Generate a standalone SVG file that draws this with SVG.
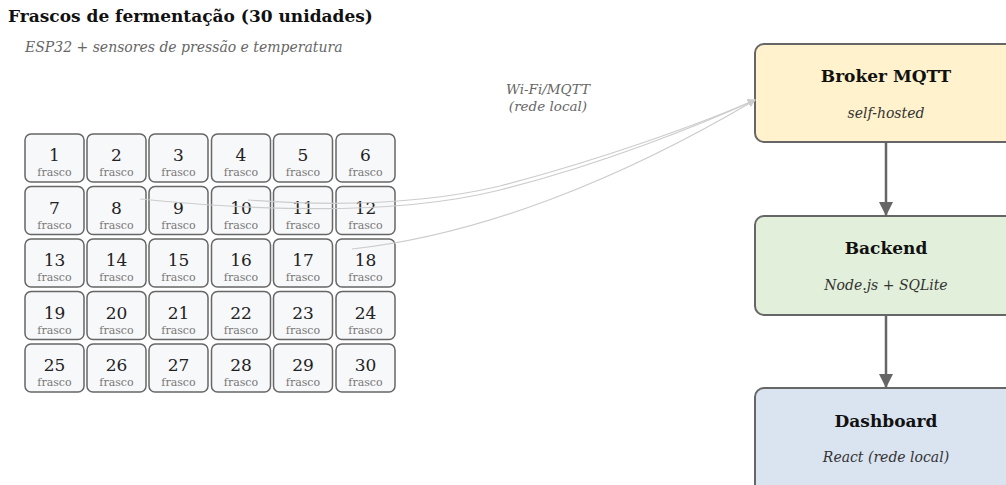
<svg xmlns="http://www.w3.org/2000/svg" width="1006" height="485" viewBox="0 0 1006 485">
<defs>
<style>
text{font-family:"DejaVu Serif","Liberation Serif",serif}
.title{font-size:17px;font-weight:bold;fill:#111}
.sub{font-size:14px;font-style:italic;fill:#666}
.wl{font-size:13.5px;font-style:italic;fill:#666;text-anchor:middle}
.f rect{fill:#f7f8fa;stroke:#666;stroke-width:1.5}
.num{font-size:17px;fill:#222;text-anchor:middle}
.lbl{font-size:11px;fill:#777;text-anchor:middle}
.big rect{stroke:#666;stroke-width:2}
.bt{font-size:17px;font-weight:bold;fill:#111;text-anchor:middle}
.bs{font-size:14px;font-style:italic;fill:#333;text-anchor:middle}
.wire{fill:none;stroke:#ccc;stroke-width:1.2}
.flow{fill:none;stroke:#666;stroke-width:2.5}
</style>
<marker id="ag" viewBox="0 0 10 10" refX="9" refY="5" markerWidth="8" markerHeight="8" markerUnits="userSpaceOnUse" orient="auto"><path d="M0,0 L10,5 L0,10 z" fill="#ccc"/></marker>
<marker id="ad" viewBox="0 0 10 10" refX="10" refY="5" markerWidth="14" markerHeight="14" markerUnits="userSpaceOnUse" orient="auto"><path d="M0,0 L10,5 L0,10 z" fill="#666"/></marker>
</defs>
<rect width="1006" height="485" fill="#fff"/>
<text class="title" x="8" y="22">Frascos de fermentação (30 unidades)</text>
<text class="sub" x="25" y="52">ESP32 + sensores de pressão e temperatura</text>

<g id="frascos">
<g id="f1" class="f"><rect x="25" y="134" width="59" height="48" rx="6"/><text class="num" x="54.5" y="161">1</text><text class="lbl" x="54.5" y="176">frasco</text></g>
<g id="f2" class="f"><rect x="87" y="134" width="59" height="48" rx="6"/><text class="num" x="116.5" y="161">2</text><text class="lbl" x="116.5" y="176">frasco</text></g>
<g id="f3" class="f"><rect x="149" y="134" width="59" height="48" rx="6"/><text class="num" x="178.5" y="161">3</text><text class="lbl" x="178.5" y="176">frasco</text></g>
<g id="f4" class="f"><rect x="211.5" y="134" width="59" height="48" rx="6"/><text class="num" x="241" y="161">4</text><text class="lbl" x="241" y="176">frasco</text></g>
<g id="f5" class="f"><rect x="273.5" y="134" width="59" height="48" rx="6"/><text class="num" x="303" y="161">5</text><text class="lbl" x="303" y="176">frasco</text></g>
<g id="f6" class="f"><rect x="336" y="134" width="59" height="48" rx="6"/><text class="num" x="365.5" y="161">6</text><text class="lbl" x="365.5" y="176">frasco</text></g>

<g id="f7" class="f"><rect x="25" y="186.5" width="59" height="48" rx="6"/><text class="num" x="54.5" y="213.5">7</text><text class="lbl" x="54.5" y="228.5">frasco</text></g>
<g id="f8" class="f"><rect x="87" y="186.5" width="59" height="48" rx="6"/><text class="num" x="116.5" y="213.5">8</text><text class="lbl" x="116.5" y="228.5">frasco</text></g>
<g id="f9" class="f"><rect x="149" y="186.5" width="59" height="48" rx="6"/><text class="num" x="178.5" y="213.5">9</text><text class="lbl" x="178.5" y="228.5">frasco</text></g>
<g id="f10" class="f"><rect x="211.5" y="186.5" width="59" height="48" rx="6"/><text class="num" x="241" y="213.5">10</text><text class="lbl" x="241" y="228.5">frasco</text></g>
<g id="f11" class="f"><rect x="273.5" y="186.5" width="59" height="48" rx="6"/><text class="num" x="303" y="213.5">11</text><text class="lbl" x="303" y="228.5">frasco</text></g>
<g id="f12" class="f"><rect x="336" y="186.5" width="59" height="48" rx="6"/><text class="num" x="365.5" y="213.5">12</text><text class="lbl" x="365.5" y="228.5">frasco</text></g>

<g id="f13" class="f"><rect x="25" y="239" width="59" height="48" rx="6"/><text class="num" x="54.5" y="266">13</text><text class="lbl" x="54.5" y="281">frasco</text></g>
<g id="f14" class="f"><rect x="87" y="239" width="59" height="48" rx="6"/><text class="num" x="116.5" y="266">14</text><text class="lbl" x="116.5" y="281">frasco</text></g>
<g id="f15" class="f"><rect x="149" y="239" width="59" height="48" rx="6"/><text class="num" x="178.5" y="266">15</text><text class="lbl" x="178.5" y="281">frasco</text></g>
<g id="f16" class="f"><rect x="211.5" y="239" width="59" height="48" rx="6"/><text class="num" x="241" y="266">16</text><text class="lbl" x="241" y="281">frasco</text></g>
<g id="f17" class="f"><rect x="273.5" y="239" width="59" height="48" rx="6"/><text class="num" x="303" y="266">17</text><text class="lbl" x="303" y="281">frasco</text></g>
<g id="f18" class="f"><rect x="336" y="239" width="59" height="48" rx="6"/><text class="num" x="365.5" y="266">18</text><text class="lbl" x="365.5" y="281">frasco</text></g>

<g id="f19" class="f"><rect x="25" y="291.5" width="59" height="48" rx="6"/><text class="num" x="54.5" y="318.5">19</text><text class="lbl" x="54.5" y="333.5">frasco</text></g>
<g id="f20" class="f"><rect x="87" y="291.5" width="59" height="48" rx="6"/><text class="num" x="116.5" y="318.5">20</text><text class="lbl" x="116.5" y="333.5">frasco</text></g>
<g id="f21" class="f"><rect x="149" y="291.5" width="59" height="48" rx="6"/><text class="num" x="178.5" y="318.5">21</text><text class="lbl" x="178.5" y="333.5">frasco</text></g>
<g id="f22" class="f"><rect x="211.5" y="291.5" width="59" height="48" rx="6"/><text class="num" x="241" y="318.5">22</text><text class="lbl" x="241" y="333.5">frasco</text></g>
<g id="f23" class="f"><rect x="273.5" y="291.5" width="59" height="48" rx="6"/><text class="num" x="303" y="318.5">23</text><text class="lbl" x="303" y="333.5">frasco</text></g>
<g id="f24" class="f"><rect x="336" y="291.5" width="59" height="48" rx="6"/><text class="num" x="365.5" y="318.5">24</text><text class="lbl" x="365.5" y="333.5">frasco</text></g>

<g id="f25" class="f"><rect x="25" y="344" width="59" height="48" rx="6"/><text class="num" x="54.5" y="371">25</text><text class="lbl" x="54.5" y="386">frasco</text></g>
<g id="f26" class="f"><rect x="87" y="344" width="59" height="48" rx="6"/><text class="num" x="116.5" y="371">26</text><text class="lbl" x="116.5" y="386">frasco</text></g>
<g id="f27" class="f"><rect x="149" y="344" width="59" height="48" rx="6"/><text class="num" x="178.5" y="371">27</text><text class="lbl" x="178.5" y="386">frasco</text></g>
<g id="f28" class="f"><rect x="211.5" y="344" width="59" height="48" rx="6"/><text class="num" x="241" y="371">28</text><text class="lbl" x="241" y="386">frasco</text></g>
<g id="f29" class="f"><rect x="273.5" y="344" width="59" height="48" rx="6"/><text class="num" x="303" y="371">29</text><text class="lbl" x="303" y="386">frasco</text></g>
<g id="f30" class="f"><rect x="336" y="344" width="59" height="48" rx="6"/><text class="num" x="365.5" y="371">30</text><text class="lbl" x="365.5" y="386">frasco</text></g>
</g>

<g id="broker" class="big"><rect x="755" y="44" width="262" height="98" rx="9" fill="#fff2cc"/><text class="bt" x="886" y="82">Broker MQTT</text><text class="bs" x="886" y="118">self-hosted</text></g>
<g id="backend" class="big"><rect x="755" y="216" width="262" height="99" rx="9" fill="#e2efda"/><text class="bt" x="886" y="254">Backend</text><text class="bs" x="886" y="290">Node.js + SQLite</text></g>
<g id="dashboard" class="big"><rect x="755" y="388" width="262" height="110" rx="9" fill="#dae3f0"/><text class="bt" x="886" y="427">Dashboard</text><text class="bs" x="886" y="462">React (rede local)</text></g>

<g id="connectors">
<path class="wire" d="M140,199 C300,215 420,210 500,190 C600,165 700,125 755,100" marker-end="url(#ag)"/>
<path class="wire" d="M248,200 C330,206 420,205 500,186 C600,160 700,124 755,100" marker-end="url(#ag)"/>
<path class="wire" d="M352,249 C480,235 620,180 755,100" marker-end="url(#ag)"/>
<text class="wl" x="548" y="94">Wi-Fi/MQTT</text>
<text class="wl" x="548" y="111">(rede local)</text>
<path class="flow" d="M886,142 V216" marker-end="url(#ad)"/>
<path class="flow" d="M886,315 V388" marker-end="url(#ad)"/>
</g>
</svg>
